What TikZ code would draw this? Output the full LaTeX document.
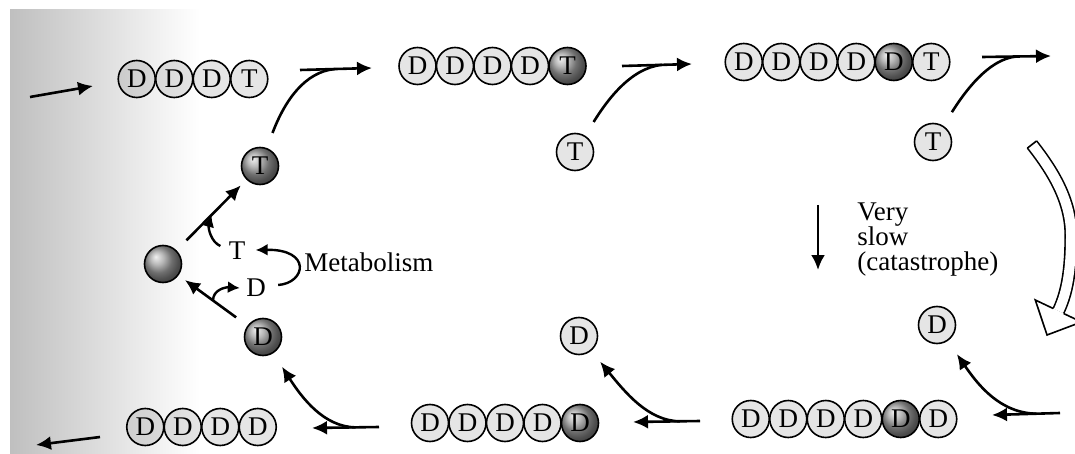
\documentclass[tikz,border=0pt]{standalone}
\usepackage{fontspec}
\setmainfont{Liberation Serif}
\usepgflibrary{arrows.meta}
\usetikzlibrary{calc}
\tikzset{
  every node/.style={font=\fontsize{13.5}{12.5}\selectfont},
  lite/.style={circle,draw,line width=.8pt,minimum size=18.5pt,inner sep=0pt,fill=black,fill opacity=.1,text opacity=1},
  dark/.style={circle,draw,line width=.8pt,minimum size=18.5pt,inner sep=0pt,shading=ball,ball color=gray!75},
  arr/.style={line width=1.3pt,-{Latex[length=7.5pt,width=7pt]}},
  marr/.style={line width=1.2pt,-{Latex[length=6pt,width=6pt]}},
  feed/.style={line width=1.3pt,shorten <=8pt},
}
\def\chain#1#2#3#4{
  % 1: name
  % 2: x of first ball
  % 3: y
  % 4: letter/style list
  \foreach \l/\s [count=\i] in {#4}
    \node[\s] (#1\i) at ({#2+(\i-1)*37.5},#3) {\l};
}
\def\ball#1#2#3#4#5{
  % 1: name
  % 2: x
  % 3: y
  % 4: letter
  % 5: style
  \node[#5] (#1) at (#2,#3) {#4};
}
\begin{document}
\begin{tikzpicture}[x=.5pt,y=-.5pt]
    \useasboundingbox (0,0) rectangle (1075,454);
    \clip (0,0) rectangle (1075,454);
    \shade[left color=gray!50,right color=white] (10,10) rectangle (200,454);

    % \chain{name}{x}{y}{letters}
    \chain{a}{136.75}{79}{D/lite,D/lite,D/lite,T/lite}
    \chain{b}{417.5}{66}{D/lite,D/lite,D/lite,D/lite,T/dark}
    \chain{c}{743.75}{62}{D/lite,D/lite,D/lite,D/lite,D/dark,T/lite}
    \chain{d}{750.75}{419}{D/lite,D/lite,D/lite,D/lite,D/dark,D/lite}
    \chain{e}{430}{423}{D/lite,D/lite,D/lite,D/lite,D/dark}
    \chain{f}{145.25}{427}{D/lite,D/lite,D/lite,D/lite}

    \ball{tb}{260}{166}{T}{dark}   \ball{t1}{575}{152}{T}{lite}   \ball{t2}{933}{142}{T}{lite}
    \ball{db}{263}{337}{D}{dark}   \ball{d1}{579}{336}{D}{lite}   \ball{d2}{937}{325}{D}{lite}
    \ball{sph}{163}{264}{}{dark}

    \node[inner sep=0pt] (tl) at (237,251) {T};
    \node[inner sep=0pt] (dl) at (256,288) {D};
    \node[inner sep=0pt,anchor=west] (met) at (304,262) {Metabolism};
    \node[inner sep=0pt,anchor=north west,align=left] (slow) at (857,202) {Very\\slow\\(catastrophe)};

    \coordinate (p0) at (30,97);   \coordinate (q0) at (93,86);
    \coordinate (p1) at (300,70);  \coordinate (q1) at (372,68);
    \coordinate (p2) at (622,66);  \coordinate (q2) at (692,64);
    \coordinate (p3) at (982,57);  \coordinate (q3) at (1051,56);
    \coordinate (p4) at (1060,413); \coordinate (q4) at (992,415);
    \coordinate (p5) at (700,421); \coordinate (q5) at (633,422);
    \coordinate (p6) at (379,427); \coordinate (q6) at (312,428);
    \coordinate (p7) at (100,437); \coordinate (q7) at (36,445);
    \coordinate (v0) at (818,205); \coordinate (v1) at (818,270);

    \foreach \k in {0,...,7} \draw[arr] (p\k) -- (q\k);
    \draw[arr] (v0) -- (v1);

    % T joins the row
    \draw[feed] (tb) .. controls (285,100) and (305,72) .. ($(p1)!.48!(q1)$);
    \draw[feed] (t1) .. controls (606,102) and (630,68) .. ($(p2)!.57!(q2)$);
    \draw[feed] (t2) .. controls (964,93) and (988,59) .. ($(p3)!.5!(q3)$);
    % D leaves the row
    \draw[arr,shorten >=8pt] ($(p4)!.35!(q4)$) .. controls (1000,413) and (978,385) .. (d2);
    \draw[arr,shorten >=7pt] ($(p5)!.3!(q5)$) .. controls (648,421) and (625,392) .. (d1);
    \draw[arr,shorten >=8pt] ($(p6)!.35!(q6)$) .. controls (324,427) and (302,398) .. (db);

    % metabolism
    \draw[arr,shorten <=7pt,shorten >=4pt] (db) -- (sph);
    \draw[arr,shorten <=7pt,shorten >=4pt] (sph) -- (tb);
    \draw[marr] ($(tl.west)+(-8,-5)$) .. controls (211,242) and (208,228) .. ($(sph)!.5!(tb)$);
    \draw[marr] ($(db)!.5!(sph)$) .. controls (213,290) and (225,287) .. ($(dl.west)+(-6,0)$);
    \draw[marr] ($(dl.east)+(12,-3)$) .. controls (306,283) and (312,249) .. ($(tl.east)+(10,-1)$);

    % hollow arrow
    \draw[line width=.8pt,double=white,double distance=5pt] (1032,144.5) .. controls (1052,170) and (1071,200) .. (1071,235)
      .. controls (1071,262) and (1069,289) .. (1058.4,311);
    \fill[white] (1035.3,300) -- (1047,335) -- (1081.5,322) -- cycle;
    \draw[line width=.8pt] (1053.2,308.5) -- (1035.3,300) -- (1047,335) -- (1081.5,322) -- (1063.6,313.5);
    \draw[line width=.8pt] (1027.4,148.1) -- (1036.6,140.9);
\end{tikzpicture}
\end{document}
